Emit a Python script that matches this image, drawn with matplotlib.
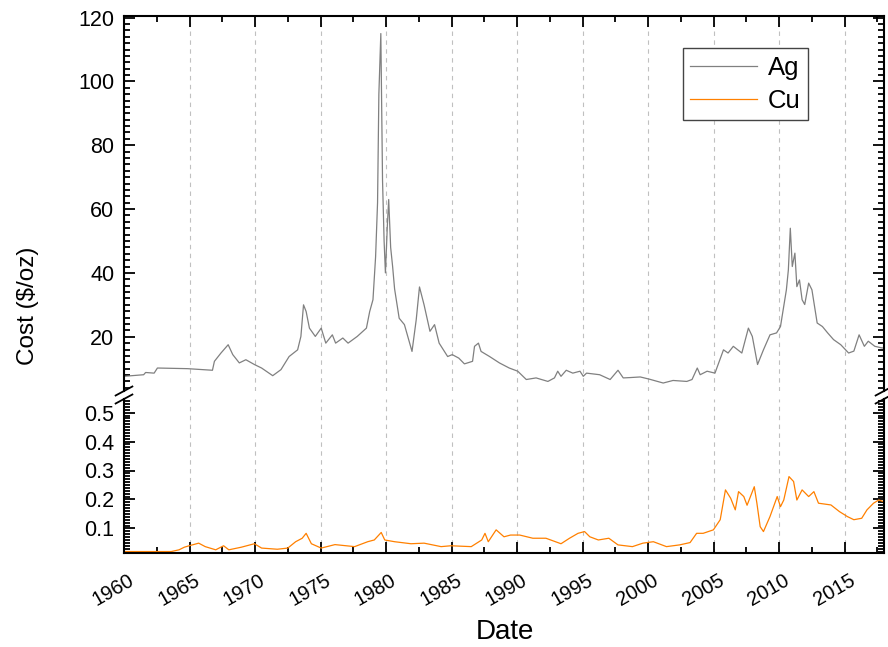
import matplotlib
matplotlib.use("Agg")
import matplotlib.pyplot as plt
from matplotlib.ticker import MultipleLocator
from matplotlib.transforms import ScaledTranslation

plt.rcParams["font.family"] = ["Liberation Sans", "DejaVu Sans"]

# silver price (year, $/oz)
ag_year = [1960.0, 1961.5, 1961.65, 1962.3, 1962.55, 1964.85, 1966.75, 1966.9, 1967.4, 1967.95,
           1968.3, 1968.8, 1969.3, 1969.95, 1970.5, 1971.35, 1971.98, 1972.6, 1973.25, 1973.5,
           1973.7, 1973.9, 1974.15, 1974.6, 1975.05, 1975.4, 1975.9, 1976.15, 1976.7, 1977.1,
           1977.8, 1978.5, 1978.75, 1979.0, 1979.2, 1979.35, 1979.45, 1979.6, 1979.73, 1979.85,
           1979.95, 1980.1, 1980.2, 1980.35, 1980.5, 1980.65, 1981.0, 1981.4, 1981.98, 1982.3,
           1982.55, 1982.9, 1983.35, 1983.7, 1984.05, 1984.7, 1985.05, 1985.55, 1985.98, 1986.6,
           1986.75, 1987.05, 1987.25, 1987.9, 1988.65, 1989.4, 1990.05, 1990.7, 1991.45, 1992.35,
           1992.85, 1993.1, 1993.35, 1993.75, 1994.25, 1994.8, 1995.05, 1995.3, 1996.3, 1997.1,
           1997.7, 1998.1, 1998.6, 1999.4, 2000.1, 2001.15, 2001.9, 2002.95, 2003.35, 2003.75,
           2003.97, 2004.5, 2005.1, 2005.75, 2006.1, 2006.5, 2007.15, 2007.65, 2007.95, 2008.35,
           2008.8, 2009.3, 2009.8, 2010.1, 2010.55, 2010.7, 2010.85, 2011.0, 2011.2, 2011.35,
           2011.55, 2011.75, 2011.95, 2012.25, 2012.5, 2012.9, 2013.3, 2013.7, 2014.15, 2014.7,
           2015.3, 2015.7, 2016.1, 2016.5, 2016.8, 2017.3, 2017.85, 2018.0]
ag_cost = [7.6, 8.1, 8.8, 8.6, 10.2, 10.0, 9.5, 12.3, 14.9, 17.5,
           14.4, 11.8, 12.8, 11.3, 10.2, 7.8, 9.7, 13.8, 15.9, 20.1,
           30.0, 27.9, 22.7, 20.1, 22.7, 18.0, 20.6, 18.0, 19.6, 18.0,
           20.1, 22.7, 27.9, 31.6, 45, 62, 96, 115, 69, 50,
           40, 55, 63, 48, 42, 35, 25.8, 23.8, 15.4, 25.3,
           35.6, 30.0, 21.7, 23.8, 18.0, 13.8, 14.4, 13.3, 11.5, 12.3,
           17.0, 18.0, 15.4, 13.8, 11.8, 10.2, 9.2, 6.6, 7.1, 6.0,
           7.1, 9.2, 7.6, 9.5, 8.6, 9.2, 7.6, 8.6, 8.1, 6.6,
           9.5, 7.1, 7.2, 7.4, 6.7, 5.5, 6.3, 6.0, 6.6, 10.2,
           8.1, 9.2, 8.6, 15.9, 14.9, 17.0, 14.9, 22.7, 20.1, 11.3,
           15.9, 20.6, 21.2, 23.2, 34.7, 40.9, 54.0, 42.0, 46.2, 35.7,
           37.8, 31.6, 30.1, 36.8, 34.7, 24.3, 23.2, 21.2, 19.1, 17.5,
           14.9, 15.5, 20.6, 17.0, 18.6, 17.0, 16.5, 16.5]

# copper price (year, $/oz)
cu_year = [1960.0, 1963.6, 1964.2, 1964.6, 1964.97, 1965.7, 1966.2, 1967.0, 1967.6, 1968.0,
           1968.95, 1969.95, 1970.5, 1971.7, 1972.5, 1973.1, 1973.6, 1973.9, 1974.3, 1975.05,
           1976.1, 1977.6, 1978.6, 1979.1, 1979.63, 1979.9, 1980.65, 1981.9, 1982.9, 1984.2,
           1984.95, 1986.5, 1987.3, 1987.55, 1987.8, 1988.4, 1989.0, 1989.5, 1990.2, 1991.2,
           1992.2, 1993.35, 1994.0, 1994.65, 1995.15, 1995.55, 1996.2, 1997.0, 1997.7, 1998.8,
           1999.6, 2000.4, 2001.4, 2002.4, 2003.2, 2003.7, 2004.2, 2004.98, 2005.5, 2005.9,
           2006.3, 2006.65, 2006.9, 2007.3, 2007.55, 2008.1, 2008.3, 2008.55, 2008.8, 2009.3,
           2009.85, 2010.1, 2010.35, 2010.75, 2011.1, 2011.35, 2011.75, 2012.25, 2012.65, 2013.0,
           2013.95, 2014.6, 2015.2, 2015.7, 2016.3, 2016.7, 2017.2, 2017.6, 2018.0]
cu_cost = [0.02, 0.02, 0.026, 0.035, 0.04, 0.049, 0.037, 0.026, 0.04, 0.026,
           0.035, 0.047, 0.032, 0.028, 0.032, 0.054, 0.066, 0.083, 0.047, 0.032,
           0.044, 0.037, 0.054, 0.06, 0.086, 0.06, 0.054, 0.047, 0.049, 0.037,
           0.04, 0.037, 0.06, 0.083, 0.054, 0.095, 0.071, 0.077, 0.077, 0.066,
           0.066, 0.047, 0.066, 0.083, 0.089, 0.071, 0.06, 0.066, 0.043, 0.037,
           0.049, 0.054, 0.037, 0.043, 0.051, 0.083, 0.083, 0.095, 0.13, 0.233,
           0.204, 0.164, 0.227, 0.21, 0.18, 0.244, 0.187, 0.106, 0.089, 0.141,
           0.21, 0.175, 0.198, 0.279, 0.262, 0.198, 0.233, 0.21, 0.227, 0.187,
           0.181, 0.158, 0.141, 0.13, 0.135, 0.164, 0.187, 0.198, 0.192]

year_ticks = list(range(1960, 2016, 5))

W, H = 888, 647
fig = plt.figure(figsize=(W / 100, H / 100), dpi=100)


def px_axes(left, top, right, bottom):
    return fig.add_axes([left / W, 1 - bottom / H, (right - left) / W, (bottom - top) / H])


ax_top = px_axes(124, 16, 884, 391)
ax_bot = px_axes(124, 399, 884, 553)

ag_line, = ax_top.plot(ag_year, ag_cost, color="#808080", lw=0.9, label="Ag")
cu_line, = ax_bot.plot(cu_year, cu_cost, color="#ff8000", lw=0.9, label="Cu")

ax_top.set_ylim(3, 120.5)
ax_bot.set_ylim(0.015, 0.547)

for ax in (ax_top, ax_bot):
    ax.set_xlim(1960, 2018)
    ax.xaxis.set_major_locator(MultipleLocator(5))
    ax.xaxis.set_minor_locator(MultipleLocator(2.5))
    ax.grid(True, axis="x", which="major", color="#c0c0c0", ls=(0, (4, 4)), lw=0.8)
    ax.tick_params(which="both", direction="in", left=True, right=True, width=1.3,
                   labelsize=15.5, pad=7)
    ax.tick_params(which="major", length=8)
    ax.tick_params(which="minor", length=4)
    for sp in ax.spines.values():
        sp.set_linewidth(1.5)

ax_top.yaxis.set_major_locator(MultipleLocator(20))
ax_top.yaxis.set_minor_locator(MultipleLocator(2))
ax_top.set_yticks([20, 40, 60, 80, 100, 120])
ax_top.tick_params(axis="x", which="both", top=True, bottom=False, labelbottom=False)
ax_top.spines["bottom"].set_visible(False)

ax_bot.set_yticks([0.1, 0.2, 0.3, 0.4, 0.5])
ax_bot.yaxis.set_minor_locator(MultipleLocator(0.01))
ax_bot.tick_params(axis="x", which="both", top=False, bottom=True, pad=13,
                   labelsize=14.5)
ax_bot.spines["top"].set_visible(False)
ax_bot.set_xticks(year_ticks)
ax_bot.set_xticklabels([str(y) for y in year_ticks], rotation=30, ha="right",
                       rotation_mode="anchor")
shift = ScaledTranslation(4 / 100, 0, fig.dpi_scale_trans)
for lbl in ax_bot.get_xticklabels():
    lbl.set_transform(lbl.get_transform() + shift)

# break marks on both side spines
for ax, yy in ((ax_top, 0.0), (ax_bot, 1.0)):
    for xx in (0.0, 1.0):
        ax.plot([xx - 0.011, xx + 0.011], [yy - 0.012 / (1 if ax is ax_top else 0.41),
                                           yy + 0.012 / (1 if ax is ax_top else 0.41)],
                transform=ax.transAxes, color="black", lw=1.3, clip_on=False)

leg = ax_top.legend([ag_line, cu_line], ["Ag", "Cu"], loc="upper right",
                    bbox_to_anchor=(0.9, 0.915), borderaxespad=0, fontsize=18.5,
                    fancybox=False, framealpha=1, edgecolor="#444444",
                    handlelength=2.6, handletextpad=0.4, borderpad=0.3,
                    labelspacing=0.35)
leg.get_frame().set_linewidth(1.0)

fig.text(28 / W, 1 - 306 / H, "Cost ($/oz)", rotation=90, ha="center", va="center",
         fontsize=17.5)
fig.text(505 / W, 1 - 632 / H, "Date", ha="center", va="center", fontsize=20)

fig.savefig("out.png", dpi=100)
